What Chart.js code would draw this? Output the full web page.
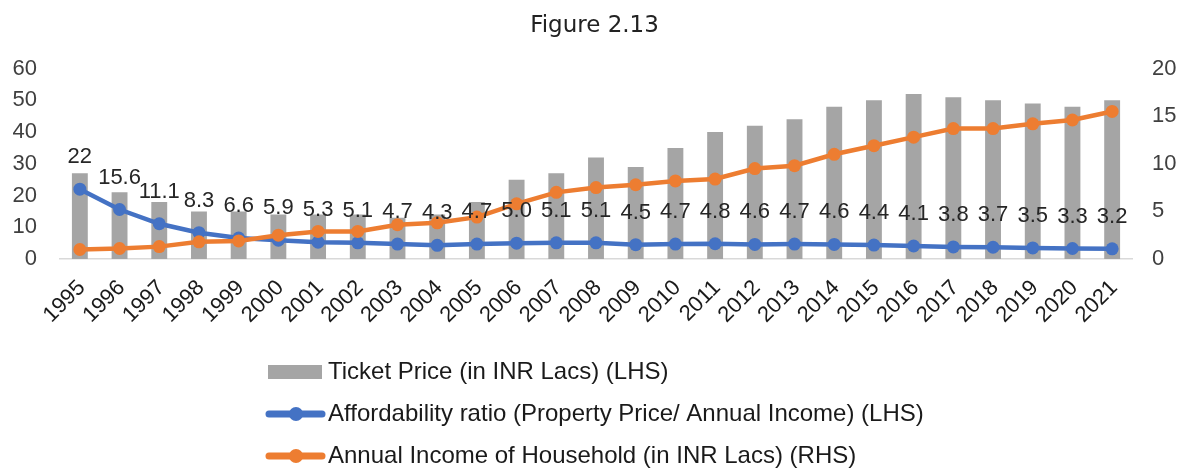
<!DOCTYPE html>
<html>
<head>
<meta charset="utf-8">
<script src="https://cdn.jsdelivr.net/npm/chart.js@4/dist/chart.umd.min.js"></script>
<style>
  body { margin: 0; background: #fff; }
  #wrap { width: 1186px; height: 470px; position: relative; }
</style>
</head>
<body>
<div id="wrap"><canvas id="chart"></canvas></div>
<script>
// dati
const years = ["1995", "1996", "1997", "1998", "1999", "2000", "2001", "2002", "2003", "2004",
    "2005", "2006", "2007", "2008", "2009", "2010", "2011", "2012", "2013", "2014",
    "2015", "2016", "2017", "2018", "2019", "2020", "2021"];

const ticketPrice = [27, 21, 18, 15, 15, 14, 14, 14, 13, 14,
    18, 25, 27, 32, 29, 35, 40, 42, 44, 48,
    50, 52, 51, 50, 49, 48, 50];

const affordability = [22, 15.6, 11.1, 8.3, 6.6, 5.9, 5.3, 5.1, 4.7, 4.3,
    4.7, 5.0, 5.1, 5.1, 4.5, 4.7, 4.8, 4.6, 4.7, 4.6,
    4.4, 4.1, 3.8, 3.7, 3.5, 3.3, 3.2];

const annualIncome = [1.0, 1.1, 1.3, 1.8, 1.9, 2.5, 2.9, 2.9, 3.6, 3.8,
    4.4, 5.8, 7.0, 7.5, 7.8, 8.2, 8.4, 9.5, 9.8, 11.0,
    11.9, 12.8, 13.7, 13.7, 14.2, 14.6, 15.5];

const leftTicks = { min: 0, max: 60, step: 10 };
const rightTicks = { min: 0, max: 20, step: 5 };

const GREY = "#A5A5A5";
const BLUE = "#4472C4";
const ORANGE = "#ED7D31";

Chart.defaults.font.family = "'Liberation Sans', Arial, sans-serif";
Chart.defaults.color = "#404040";

function fmt(v) {
    return (Number.isInteger(v) && v >= 10) ? String(v) : v.toFixed(1);
}

// etichette sopra i punti blu
const ratioLabels = {
    id: "ratioLabels",
    afterDatasetsDraw(chart) {
        const ctx = chart.ctx;
        const meta = chart.getDatasetMeta(1);
        ctx.save();
        ctx.font = "22px 'Liberation Sans', Arial, sans-serif";
        ctx.fillStyle = "#262626";
        ctx.textAlign = "center";
        ctx.textBaseline = "middle";
        meta.data.forEach((pt, i) => {
            ctx.fillText(fmt(affordability[i]), pt.x, pt.y - 32);
        });
        ctx.restore();
    }
};

// legenda verticale in basso
const stackedLegend = {
    id: "stackedLegend",
    afterDraw(chart) {
        const ctx = chart.ctx;
        const x0 = 267;
        const y0 = 372;
        const gap = 42;
        ctx.save();
        ctx.font = "24px 'Liberation Sans', Arial, sans-serif";
        ctx.textBaseline = "middle";
        ctx.textAlign = "left";
        chart.data.datasets.forEach((ds, i) => {
            const y = y0 + i * gap;
            if (ds.type === "bar") {
                ctx.fillStyle = ds.backgroundColor;
                ctx.fillRect(x0 + 1, y - 7, 54, 14);
            } else {
                ctx.strokeStyle = ds.borderColor;
                ctx.lineWidth = 7;
                ctx.lineCap = "round";
                ctx.beginPath();
                ctx.moveTo(x0 + 2, y);
                ctx.lineTo(x0 + 55, y);
                ctx.stroke();
                ctx.fillStyle = ds.borderColor;
                ctx.beginPath();
                ctx.arc(x0 + 29, y, 7, 0, Math.PI * 2);
                ctx.fill();
            }
            ctx.fillStyle = "#1a1a1a";
            ctx.fillText(ds.label, x0 + 61, y);
        });
        ctx.restore();
    }
};

const ctx = document.getElementById("chart").getContext("2d");

new Chart(ctx, {
    data: {
        labels: years,
        datasets: [
            {
                type: "bar",
                label: "Ticket Price (in INR Lacs) (LHS)",
                data: ticketPrice,
                backgroundColor: GREY,
                yAxisID: "y",
                barPercentage: 0.4,
                categoryPercentage: 1,
                order: 3
            },
            {
                type: "line",
                label: "Affordability ratio (Property Price/ Annual Income) (LHS)",
                data: affordability,
                borderColor: BLUE,
                backgroundColor: BLUE,
                pointBackgroundColor: BLUE,
                borderWidth: 4.5,
                pointRadius: 6.5,
                pointBorderWidth: 0,
                yAxisID: "y",
                order: 2
            },
            {
                type: "line",
                label: "Annual Income of Household (in INR Lacs) (RHS)",
                data: annualIncome,
                borderColor: ORANGE,
                backgroundColor: ORANGE,
                pointBackgroundColor: ORANGE,
                borderWidth: 4.5,
                pointRadius: 6.5,
                pointBorderWidth: 0,
                yAxisID: "y1",
                order: 1
            }
        ]
    },
    options: {
        responsive: true,
        maintainAspectRatio: false,
        animation: false,
        layout: {
            padding: { left: 12, right: 9, top: 0, bottom: 129 }
        },
        plugins: {
            legend: { display: false },
            tooltip: { enabled: false },
            title: {
                display: true,
                text: "Figure 2.13",
                color: "#222",
                font: { family: "'DejaVu Sans', sans-serif", size: 23, weight: "normal" },
                padding: { top: 12, bottom: 29 }
            }
        },
        scales: {
            x: {
                offset: true,
                grid: { display: false, drawTicks: false },
                border: { display: true, color: "#D9D9D9", width: 1.5 },
                ticks: {
                    color: "#1a1a1a",
                    font: { size: 22 },
                    maxRotation: 45,
                    minRotation: 45,
                    padding: 16,
                    labelOffset: 2,
                    autoSkip: false
                },
                // altezza fissa dell'asse e niente margini laterali
                afterFit: scale => {
                    scale.paddingLeft = 0;
                    scale.paddingRight = 0;
                    scale.height = 82;
                }
            },
            y: {
                position: "left",
                min: leftTicks.min,
                max: leftTicks.max,
                grid: { display: false, drawTicks: false },
                border: { display: false },
                ticks: { stepSize: leftTicks.step, font: { size: 22 }, padding: 23, autoSkip: false },
                // larghezza fissa: etichetta + padding una volta sola
                afterFit: scale => { scale.width = 48; }
            },
            y1: {
                position: "right",
                min: rightTicks.min,
                max: rightTicks.max,
                grid: { display: false, drawTicks: false },
                border: { display: false },
                ticks: { stepSize: rightTicks.step, font: { size: 22 }, padding: 20, autoSkip: false },
                afterFit: scale => { scale.width = 45; }
            }
        }
    },
    plugins: [ratioLabels, stackedLegend]
});
</script>
</body>
</html>
